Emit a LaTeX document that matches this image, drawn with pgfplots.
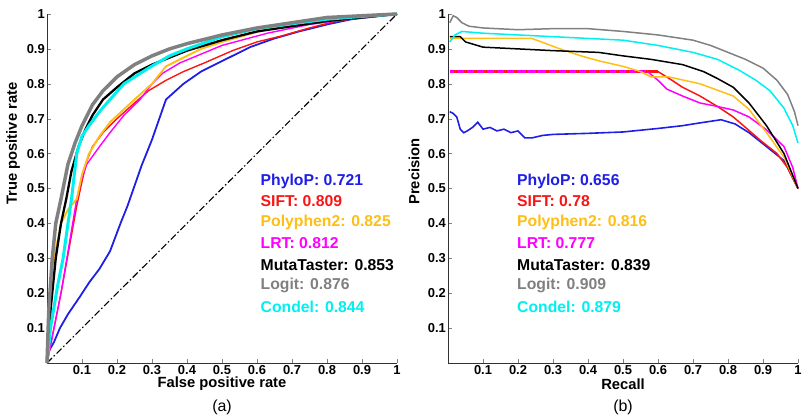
\documentclass[border=0pt]{standalone}
\usepackage{pgfplots}
\pgfplotsset{compat=1.18}
\usepackage{fontspec}
\setmainfont{Liberation Sans}
\definecolor{cblue}{RGB}{30,30,230}
\definecolor{cred}{RGB}{250,20,20}
\definecolor{corange}{RGB}{255,190,20}
\definecolor{cmag}{RGB}{255,0,255}
\definecolor{cgray}{RGB}{128,128,128}
\definecolor{ccyan}{RGB}{0,240,240}

\pgfplotsset{
  panel/.style={
    scale only axis, width=350bp, height=349bp,
    xmin=0, xmax=1, ymin=0, ymax=1,
    axis lines*=left, tick align=inside,
    axis line style={line width=0.8pt, black!80},
    xtick={0.1,0.2,...,1.0}, ytick={0.1,0.2,...,1.0},
    major tick length=4bp,
    /pgf/number format/assume math mode=true,
    /pgf/number format/fixed,
    ticklabel style={font=\fontsize{13}{15}\selectfont\bfseries, inner sep=2bp},
    label style={font=\fontsize{14.8}{16}\selectfont\bfseries, inner sep=0pt},
    xlabel style={at={(axis description cs:0.5,0)}, anchor=center, yshift=-21bp},
    ylabel style={at={(axis description cs:-0.097,0.453)}, anchor=west},
    clip=false,
  },
}
\tikzset{lbl/.style={anchor=west, inner sep=0pt, font=\fontsize{15.8}{17}\selectfont\bfseries}}

\begin{document}
\begin{tikzpicture}
\useasboundingbox (-47bp,-53bp) rectangle (757bp,363bp);

% (a) ROC
\begin{axis}[panel, at={(0,0)}, xlabel={False positive rate}, ylabel={True positive rate}]
\addplot[black, line width=1.1pt, dash pattern=on 7pt off 2.5pt on 1.5pt off 2.5pt] coordinates {(0,0)(1,1)};
% PhyloP
\addplot[cblue, line width=1.8pt] coordinates {(0,0)(0.003,0.03)(0.02,0.06)(0.037,0.1)(0.06,0.14)(0.094,0.19)(0.12,0.23)(0.15,0.27)(0.18,0.32)(0.21,0.4)(0.23,0.45)(0.27,0.565)(0.30,0.64)(0.34,0.755)(0.39,0.80)(0.44,0.835)(0.49,0.86)(0.58,0.905)(0.65,0.93)(0.72,0.95)(0.8,0.97)(0.87,0.985)(1,1)};
% SIFT
\addplot[cred, line width=1.4pt] coordinates {(0,0)(0.04,0.2)(0.085,0.45)(0.1,0.52)(0.114,0.58)(0.13,0.62)(0.16,0.66)(0.2,0.7)(0.25,0.745)(0.29,0.78)(0.34,0.81)(0.39,0.835)(0.45,0.86)(0.53,0.895)(0.6,0.92)(0.67,0.937)(0.75,0.96)(0.82,0.978)(0.9,0.99)(1,1)};
% LRT
\addplot[cmag, line width=1.4pt] coordinates {(0,0)(0.04,0.2)(0.085,0.47)(0.1,0.53)(0.114,0.57)(0.15,0.62)(0.18,0.66)(0.22,0.71)(0.266,0.755)(0.3,0.8)(0.33,0.83)(0.38,0.86)(0.44,0.885)(0.5,0.91)(0.63,0.945)(0.75,0.97)(0.9,0.99)(1,1)};
% Polyphen2
\addplot[corange, line width=1.9pt] coordinates {(0,0)(0.01,0.15)(0.02,0.3)(0.04,0.4)(0.06,0.44)(0.085,0.47)(0.1,0.54)(0.12,0.6)(0.15,0.65)(0.18,0.69)(0.25,0.755)(0.3,0.8)(0.34,0.85)(0.4,0.88)(0.44,0.9)(0.5,0.92)(0.63,0.957)(0.75,0.975)(0.9,0.99)(1,1)};
% MutaTaster
\addplot[black, line width=2.3pt] coordinates {(0,0)(0.01,0.15)(0.025,0.3)(0.04,0.4)(0.055,0.47)(0.07,0.55)(0.09,0.62)(0.11,0.67)(0.13,0.71)(0.16,0.755)(0.2,0.79)(0.25,0.83)(0.3,0.855)(0.4,0.895)(0.5,0.925)(0.6,0.95)(0.7,0.965)(0.8,0.98)(0.9,0.99)(1,1)};
% Condel
\addplot[ccyan, line width=3pt] coordinates {(0,0)(0.01,0.1)(0.03,0.22)(0.046,0.3)(0.06,0.4)(0.07,0.47)(0.085,0.6)(0.1,0.65)(0.12,0.68)(0.15,0.72)(0.18,0.755)(0.22,0.8)(0.29,0.845)(0.35,0.88)(0.4,0.9)(0.5,0.935)(0.6,0.958)(0.7,0.972)(0.8,0.985)(0.9,0.993)(1,1)};
% Logit
\addplot[cgray, line width=3.5pt] coordinates {(0,0)(0.005,0.15)(0.015,0.3)(0.025,0.4)(0.04,0.47)(0.06,0.57)(0.08,0.63)(0.1,0.68)(0.13,0.74)(0.16,0.78)(0.2,0.82)(0.25,0.855)(0.3,0.88)(0.35,0.9)(0.4,0.915)(0.5,0.94)(0.6,0.96)(0.7,0.975)(0.8,0.99)(0.9,0.995)(1,1)};
\node[lbl, text=cblue]   at (axis cs:0.61,0.519) {PhyloP: 0.721};
\node[lbl, text=cred]    at (axis cs:0.61,0.464) {SIFT: 0.809};
\node[lbl, text=corange] at (axis cs:0.61,0.404) {Polyphen2: 0.825};
\node[lbl, text=cmag]    at (axis cs:0.61,0.344) {LRT: 0.812};
\node[lbl, text=black]   at (axis cs:0.61,0.281) {MutaTaster: 0.853};
\node[lbl, text=cgray]   at (axis cs:0.61,0.221) {Logit: 0.876};
\node[lbl, text=ccyan]   at (axis cs:0.61,0.160) {Condel: 0.844};
\node[font=\fontsize{16}{18}\selectfont] at (axis cs:0.5,0) [yshift=-44bp] {(a)};
\end{axis}

% (b) Precision-recall
\begin{axis}[panel, at={(401bp,0)}, xlabel={Recall}, ylabel={Precision}]
% PhyloP
\addplot[cblue, line width=1.6pt] coordinates {(0.005,0.72)(0.015,0.715)(0.025,0.705)(0.035,0.67)(0.045,0.66)(0.055,0.665)(0.07,0.675)(0.085,0.69)(0.1,0.67)(0.12,0.675)(0.14,0.665)(0.16,0.67)(0.18,0.66)(0.2,0.665)(0.22,0.645)(0.24,0.645)(0.27,0.652)(0.3,0.655)(0.4,0.658)(0.5,0.662)(0.6,0.672)(0.67,0.68)(0.72,0.688)(0.78,0.697)(0.82,0.685)(0.86,0.66)(0.91,0.62)(0.96,0.58)(1,0.5)};
% SIFT
\addplot[cred, line width=1.5pt] coordinates {(0.6,0.835)(0.64,0.81)(0.67,0.79)(0.72,0.765)(0.77,0.735)(0.815,0.705)(0.85,0.675)(0.89,0.64)(0.94,0.6)(0.97,0.56)(1,0.5)};
\addplot[cred, line width=2.6pt] coordinates {(0.005,0.835)(0.6,0.835)};
% LRT
\addplot[cmag, line width=1.5pt] coordinates {(0.57,0.835)(0.6,0.81)(0.625,0.785)(0.67,0.765)(0.72,0.745)(0.77,0.735)(0.815,0.725)(0.86,0.705)(0.91,0.668)(0.96,0.62)(0.985,0.56)(1,0.5)};
\addplot[cmag, line width=2.6pt, dash pattern=on 1.6pt off 0.9pt] coordinates {(0.005,0.835)(0.57,0.835)};
% Polyphen2
\addplot[corange, line width=1.5pt] coordinates {(0.005,0.93)(0.24,0.93)(0.28,0.915)(0.32,0.9)(0.38,0.88)(0.43,0.866)(0.5,0.85)(0.55,0.835)(0.58,0.82)(0.63,0.82)(0.72,0.8)(0.815,0.765)(0.86,0.727)(0.91,0.66)(0.96,0.59)(1,0.5)};
% MutaTaster
\addplot[black, line width=1.5pt] coordinates {(0.005,0.935)(0.035,0.935)(0.05,0.92)(0.1,0.905)(0.2,0.9)(0.3,0.895)(0.43,0.89)(0.5,0.88)(0.58,0.87)(0.67,0.855)(0.73,0.835)(0.77,0.815)(0.815,0.79)(0.86,0.745)(0.91,0.68)(0.96,0.6)(1,0.5)};
% Logit
\addplot[cgray, line width=1.5pt] coordinates {(0.005,0.975)(0.015,0.995)(0.025,0.99)(0.04,0.975)(0.06,0.965)(0.1,0.96)(0.2,0.955)(0.3,0.958)(0.4,0.958)(0.5,0.95)(0.6,0.94)(0.7,0.925)(0.75,0.91)(0.8,0.89)(0.85,0.87)(0.9,0.845)(0.94,0.81)(0.97,0.77)(0.99,0.72)(1,0.68)};
% Condel
\addplot[ccyan, line width=1.5pt] coordinates {(0.005,0.92)(0.02,0.94)(0.04,0.95)(0.1,0.945)(0.2,0.94)(0.3,0.935)(0.4,0.93)(0.5,0.925)(0.6,0.91)(0.7,0.89)(0.77,0.87)(0.83,0.84)(0.88,0.81)(0.92,0.78)(0.96,0.73)(0.985,0.68)(1,0.63)};
\node[lbl, text=cblue]   at (axis cs:0.197,0.519) {PhyloP: 0.656};
\node[lbl, text=cred]    at (axis cs:0.197,0.464) {SIFT: 0.78};
\node[lbl, text=corange] at (axis cs:0.197,0.404) {Polyphen2: 0.816};
\node[lbl, text=cmag]    at (axis cs:0.197,0.344) {LRT: 0.777};
\node[lbl, text=black]   at (axis cs:0.197,0.281) {MutaTaster: 0.839};
\node[lbl, text=cgray]   at (axis cs:0.197,0.221) {Logit: 0.909};
\node[lbl, text=ccyan]   at (axis cs:0.197,0.160) {Condel: 0.879};
\node[font=\fontsize{16}{18}\selectfont] at (axis cs:0.5,0) [yshift=-44bp] {(b)};
\end{axis}
\end{tikzpicture}
\end{document}
